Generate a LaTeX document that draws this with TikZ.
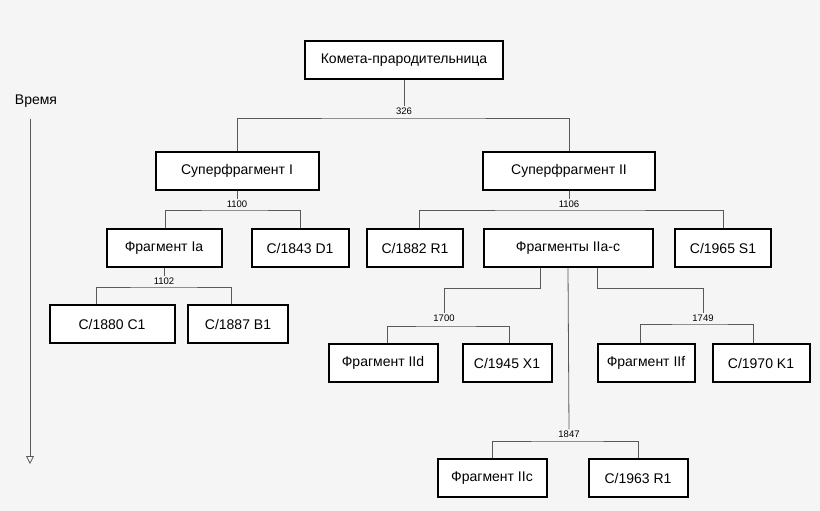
\documentclass[tikz,border=0pt]{standalone}
\usepackage{fontspec}
\setmainfont{Liberation Sans}
\usetikzlibrary{arrows.meta}
\begin{document}
\begin{tikzpicture}[x=1pt,y=-1pt,
  box/.style={draw=black,line width=2pt,fill=white,rectangle,minimum height=38pt,inner sep=0pt,font=\fontsize{14}{16}\selectfont},
  lbl/.style={inner sep=1pt,font=\fontsize{9.5}{11}\selectfont},
  con/.style={draw=black!65,line width=0.8pt}]
\fill[black!4] (0,0) rectangle (820,511);
\useasboundingbox (0,0) rectangle (820,511);
% boxes
\node[box,minimum width=198pt] (root) at (404,60) {Комета-прародительница};
\node[box,minimum width=163pt] (sf1) at (237,171) {Суперфрагмент I};
\node[box,minimum width=172pt] (sf2) at (569,171) {Суперфрагмент II};
\node[box,minimum width=115pt] (fia) at (164,248) {Фрагмент Ia};
\node[box,minimum width=97pt] (d1843) at (300,248) {C/1843 D1};
\node[box,minimum width=125pt] (c1880) at (112,324) {C/1880 C1};
\node[box,minimum width=100pt] (b1887) at (238,324) {C/1887 B1};
\node[box,minimum width=96pt] (r1882) at (415,248) {C/1882 R1};
\node[box,minimum width=169pt] (fabc) at (568,248) {Фрагменты IIa-c};
\node[box,minimum width=96pt] (s1965) at (723,248) {C/1965 S1};
\node[box,minimum width=109pt] (fiid) at (383,363) {Фрагмент IId};
\node[box,minimum width=89pt] (x1945) at (507,363) {C/1945 X1};
\node[box,minimum width=97pt] (fiif) at (646,363) {Фрагмент IIf};
\node[box,minimum width=97pt] (k1970) at (761,363) {C/1970 K1};
\node[box,minimum width=109pt] (fiic) at (492,478) {Фрагмент IIc};
\node[box,minimum width=99pt] (r1963) at (638,478) {C/1963 R1};
% labels
\node[lbl] (l326) at (404,111) {326};
\node[lbl] (l1100) at (237,204) {1100};
\node[lbl] (l1106) at (569,204) {1106};
\node[lbl] (l1102) at (164,281) {1102};
\node[lbl] (l1700) at (444,318) {1700};
\node[lbl] (l1749) at (703,318) {1749};
\node[lbl] (l1847) at (569,434) {1847};
% junctions
\coordinate (j326) at (404,118);
\coordinate (j1100) at (237,210);
\coordinate (j1106) at (569,210);
\coordinate (j1102) at (164,287);
\coordinate (j1700) at (444,326);
\coordinate (j1749) at (703,324);
\coordinate (j1847) at (569,441);
\coordinate (s1700) at (540,268);
\coordinate (s1749) at (597,268);
% connectors
\draw[con] (root.south) -- (l326.north);
\draw[con] (sf1.north) |- (j326) -| (sf2.north);
\draw[con] (sf1.south) -- (l1100.north);
\draw[con] ([xshift=-72pt]j1100) |- (j1100) -| (d1843.north);
\draw[con] ([xshift=-72pt]j1100) -- ([xshift=-72pt]j1100 |- fia.north);
\draw[con] (fia.south) -- (l1102.north);
\draw[con] ([xshift=-68pt]j1102) |- (j1102) -| ([xshift=-7pt]b1887.north);
\draw[con] ([xshift=-68pt]j1102) -- ([xshift=-68pt]j1102 |- c1880.north);
\draw[con] (sf2.south) -- (l1106.north);
\draw[con] ([xshift=4pt]r1882.north) |- (j1106) -| (s1965.north);
\draw[con] (fabc.south) -- (l1847.north);
\draw[con] (s1700) |- (l1700.north |- 0,288) -- (l1700.north);
\draw[con] (s1749) |- (l1749.north |- 0,288) -- (l1749.north);
\draw[con] ([xshift=4pt]fiid.north) |- (j1700) -| ([xshift=2pt]x1945.north);
\draw[con] ([xshift=-6pt]fiif.north) |- (j1749) -| ([xshift=-8pt]k1970.north);
\draw[con] (fiic.north) |- (j1847) -| (r1963.north);
% time axis
\node[font=\fontsize{14}{16}\selectfont] (time) at (36,101) {Время};
\coordinate (tend) at (30,464);
\draw[con,-{Triangle[open,length=8pt,width=8pt]}] (time.south -| tend) ++(0,8) -- (tend);
\end{tikzpicture}
\end{document}
